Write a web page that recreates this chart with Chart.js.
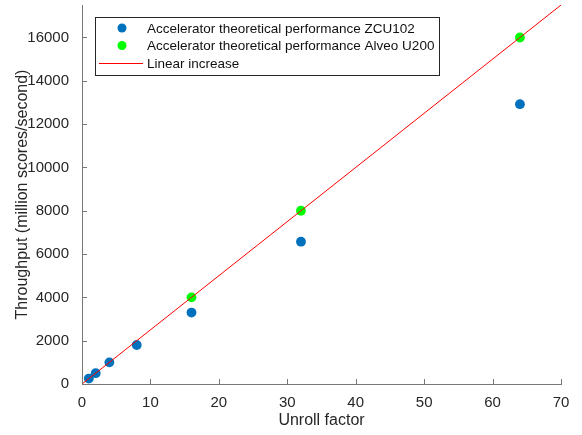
<!DOCTYPE html>
<html>
<head>
<meta charset="utf-8">
<script src="https://cdn.jsdelivr.net/npm/chart.js@4.4.1/dist/chart.umd.min.js"></script>
<style>
  html, body { margin: 0; padding: 0; background: #fff; }
  #wrap { width: 582px; height: 435px; }
</style>
</head>
<body>
<div id="wrap"><canvas id="perf-chart" width="582" height="435"></canvas></div>
<script>
// unroll factors and throughput (million scores/second)
var zcuUnroll = [1, 2, 4, 8, 16, 32, 64];
var zcuThroughput = [250, 500, 1000, 1800, 3300, 6570, 12920];
var alveoUnroll = [16, 32, 64];
var alveoThroughput = [4000, 8000, 16000];
var linearX = [0, 70];
var linearY = [0, 17500];
var xTickValues = [0, 10, 20, 30, 40, 50, 60, 70];
var yTickValues = [0, 2000, 4000, 6000, 8000, 10000, 12000, 14000, 16000];
var legendLabels = [
    'Accelerator theoretical performance ZCU102',
    'Accelerator theoretical performance Alveo U200',
    'Linear increase'
];

var blue = '#0072BD';
var green = '#00FF00';
var red = '#FF0000';
var fontFamily = '"Liberation Sans", Arial, Helvetica, sans-serif';

function toPoints(xs, ys) {
    return xs.map((x, i) => ({ x: x, y: ys[i] }));
}

// MATLAB-like inward ticks
var inwardTicks = {
    id: 'inwardTicks',
    afterDatasetsDraw: function(chart) {
        var ctx = chart.ctx;
        var area = chart.chartArea;
        var xs = chart.scales.x, ys = chart.scales.y;
        ctx.save();
        ctx.strokeStyle = '#777';
        ctx.lineWidth = 1;
        ctx.beginPath();
        xs.ticks.forEach(function(t) {
            var px = Math.round(xs.getPixelForValue(t.value)) + 0.5;
            ctx.moveTo(px, area.bottom);
            ctx.lineTo(px, area.bottom - 5);
        });
        ys.ticks.forEach(function(t) {
            var py = Math.round(ys.getPixelForValue(t.value)) + 0.5;
            ctx.moveTo(area.left, py);
            ctx.lineTo(area.left + 5, py);
        });
        ctx.stroke();
        ctx.restore();
    }
};

// boxed legend inside the axes, top left
var boxLegend = {
    id: 'boxLegend',
    afterDraw: function(chart) {
        var ctx = chart.ctx;
        var area = chart.chartArea;
        var left = area.left + 13, top = area.top + 12;
        var rowH = 17.5;
        ctx.save();
        ctx.font = '13.5px ' + fontFamily;
        var maxW = Math.max.apply(null, legendLabels.map(l => ctx.measureText(l).width));
        var textX = left + 52;
        var w = textX - left + maxW + 5;
        var h = 58;
        ctx.fillStyle = '#fff';
        ctx.fillRect(left, top, w, h);
        ctx.strokeStyle = '#262626';
        ctx.lineWidth = 1;
        ctx.strokeRect(Math.round(left) + 0.5, Math.round(top) + 0.5, Math.round(w), h);
        ctx.textBaseline = 'middle';
        legendLabels.forEach(function(label, i) {
            var cy = top + 11 + i * rowH;
            if (i < 2) {
                ctx.fillStyle = i === 0 ? blue : green;
                ctx.beginPath();
                ctx.arc(left + 27, cy, 4.5, 0, Math.PI * 2);
                ctx.fill();
            } else {
                ctx.save();
                ctx.strokeStyle = red;
                ctx.lineWidth = 1.2;
                ctx.beginPath();
                ctx.moveTo(left + 4, Math.round(cy) + 0.5);
                ctx.lineTo(left + 48, Math.round(cy) + 0.5);
                ctx.stroke();
                ctx.restore();
            }
            ctx.fillStyle = '#111';
            ctx.fillText(label, textX, cy + 1);
        });
        ctx.restore();
    }
};

var perfCtx = document.getElementById('perf-chart').getContext('2d');
var perfChart = new Chart(perfCtx, {
    type: 'scatter',
    data: {
        datasets: [{
            label: legendLabels[2],
            type: 'line',
            data: toPoints(linearX, linearY),
            borderColor: red,
            borderWidth: 1,
            pointRadius: 0,
            fill: false,
            order: 0
        }, {
            label: legendLabels[1],
            data: toPoints(alveoUnroll, alveoThroughput),
            backgroundColor: green,
            borderWidth: 0,
            pointRadius: 4.9,
            order: 1
        }, {
            label: legendLabels[0],
            data: toPoints(zcuUnroll, zcuThroughput),
            backgroundColor: blue,
            borderWidth: 0,
            pointRadius: 4.9,
            order: 2
        }]
    },
    options: {
        responsive: false,
        animation: false,
        devicePixelRatio: 1,
        layout: { padding: { left: 0, right: 21, top: 5, bottom: 0 } },
        plugins: {
            legend: { display: false },
            tooltip: { enabled: false }
        },
        scales: {
            x: {
                type: 'linear',
                min: 0,
                max: 70,
                afterBuildTicks: function(scale) {
                    scale.ticks = xTickValues.map(v => ({ value: v }));
                },
                afterFit: function(scale) { scale.height = 51; },
                border: { color: '#777', width: 1 },
                grid: { display: false },
                ticks: {
                    autoSkip: false,
                    color: '#262626',
                    padding: 2,
                    maxRotation: 0,
                    font: { family: fontFamily, size: 15 }
                },
                title: {
                    display: true,
                    text: 'Unroll factor',
                    color: '#262626',
                    padding: { top: 4, bottom: 5 },
                    font: { family: fontFamily, size: 16 }
                }
            },
            y: {
                type: 'linear',
                min: 0,
                max: 17500,
                afterBuildTicks: function(scale) {
                    scale.ticks = yTickValues.map(v => ({ value: v }));
                },
                afterFit: function(scale) {
                    scale.width = 82;
                    scale.paddingTop = 0;
                },
                border: { color: '#777', width: 1 },
                grid: { display: false },
                ticks: {
                    autoSkip: false,
                    color: '#262626',
                    padding: 5,
                    font: { family: fontFamily, size: 15 },
                    callback: function(value) { return String(value); }
                },
                title: {
                    display: true,
                    text: 'Throughput (million scores/second)',
                    color: '#262626',
                    padding: { top: 13, bottom: 2 },
                    font: { family: fontFamily, size: 16 }
                }
            }
        }
    },
    plugins: [inwardTicks, boxLegend]
});
</script>
</body>
</html>
